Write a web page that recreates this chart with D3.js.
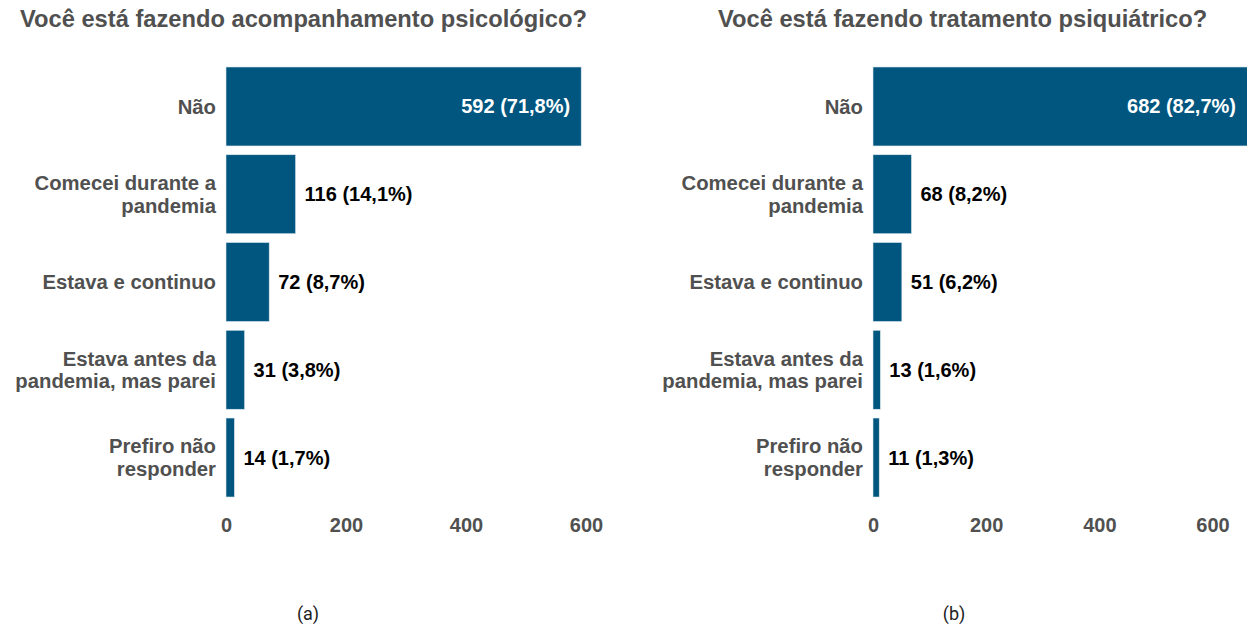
<!DOCTYPE html>
<html>
<head>
<meta charset="utf-8">
<script src="https://cdn.jsdelivr.net/npm/d3@7"></script>
<style>
  body { margin: 0; background: #fff; }
  svg { display: block; }
</style>
</head>
<body>
<div id="chart"></div>
<script>
// data
const categories = [
  ["Não"],
  ["Comecei durante a", "pandemia"],
  ["Estava e continuo"],
  ["Estava antes da", "pandemia, mas parei"],
  ["Prefiro não", "responder"]
];
const psicoValues = [592, 116, 72, 31, 14];
const psicoPct = ["71,8%", "14,1%", "8,7%", "3,8%", "1,7%"];
const psiqValues = [682, 68, 51, 13, 11];
const psiqPct = ["82,7%", "8,2%", "6,2%", "1,6%", "1,3%"];
const tickValues = [0, 200, 400, 600];
const titles = ["Você está fazendo acompanhamento psicológico?", "Você está fazendo tratamento psiquiátrico?"];
const captions = ["(a)", "(b)"];

const width = 1247, height = 628;
const barColor = "#00567f";
const greyText = "#505050";
const font = "'Liberation Sans', Arial, sans-serif";

const svg = d3.select("#chart").append("svg")
  .attr("width", width)
  .attr("height", height);

// one panel per question
const drawPanel = (opt) => {
  const g = svg.append("g");
  const ids = categories.map((c, i) => i);

  const x = d3.scaleLinear()
    .domain([0, 600])
    .range([opt.x0, opt.x0 + 600 * opt.pxPerUnit]);

  const y = d3.scaleBand()
    .domain(ids)
    .range([62.6, 501.4])
    .paddingInner(0.1)
    .paddingOuter(0.05);

  // title
  g.append("text")
    .attr("x", opt.titleX)
    .attr("y", 27)
    .attr("font-family", font)
    .attr("font-weight", "bold")
    .attr("font-size", 23.7)
    .attr("fill", greyText)
    .text(opt.title);

  // bars
  g.selectAll("rect.bar")
    .data(opt.values)
    .join("rect")
    .attr("class", "bar")
    .attr("x", x(0))
    .attr("y", (d, i) => y(i))
    .attr("width", d => x(d) - x(0))
    .attr("height", y.bandwidth())
    .attr("fill", barColor)
    .attr("stroke", "#dde8ee")
    .attr("stroke-width", 0.6);

  // category labels
  const lab = g.selectAll("text.cat")
    .data(categories)
    .join("text")
    .attr("class", "cat")
    .attr("text-anchor", "end")
    .attr("font-family", font)
    .attr("font-weight", "bold")
    .attr("font-size", 20.3)
    .attr("fill", greyText);
  lab.each(function(lines, i) {
    const cy = y(i) + y.bandwidth() / 2;
    const lh = 22.5;
    lines.forEach((t, k) => {
      d3.select(this).append("tspan")
        .attr("x", opt.x0 - 10)
        .attr("y", cy + (k - (lines.length - 1) / 2) * lh)
        .attr("dy", "0.35em")
        .text(t);
    });
  });

  // value labels
  g.selectAll("text.val")
    .data(opt.values)
    .join("text")
    .attr("class", "val")
    .attr("font-family", font)
    .attr("font-weight", "bold")
    .attr("font-size", 20)
    .attr("dy", "0.35em")
    .attr("y", (d, i) => y(i) + y.bandwidth() / 2)
    .each(function(d, i) {
      const t = d3.select(this);
      if (i === 0) {
        t.attr("x", Math.min(x(d), width) - 11)
          .attr("text-anchor", "end")
          .attr("fill", "#fff");
      } else {
        t.attr("x", x(d) + 9)
          .attr("text-anchor", "start")
          .attr("fill", "#000");
      }
    })
    .text((d, i) => d + " (" + opt.pct[i] + ")");

  // x axis (labels only)
  const axis = g.append("g")
    .attr("transform", "translate(0,518)")
    .call(d3.axisBottom(x).tickValues(tickValues).tickSize(0).tickPadding(0));
  axis.select(".domain").remove();
  axis.selectAll("text")
    .attr("font-family", font)
    .attr("font-weight", "bold")
    .attr("font-size", 20)
    .attr("fill", greyText);

  // caption
  g.append("text")
    .attr("x", opt.capX)
    .attr("y", 620)
    .attr("text-anchor", "middle")
    .attr("font-family", "Roboto, 'Liberation Sans', sans-serif")
    .attr("font-size", 18)
    .attr("fill", "#222")
    .text(opt.caption);
};

drawPanel({
  x0: 226, pxPerUnit: 0.6, values: psicoValues, pct: psicoPct,
  title: titles[0], titleX: 20, caption: captions[0], capX: 308
});
drawPanel({
  x0: 873, pxPerUnit: 0.5658, values: psiqValues, pct: psiqPct,
  title: titles[1], titleX: 718, caption: captions[1], capX: 954
});
</script>
</body>
</html>
